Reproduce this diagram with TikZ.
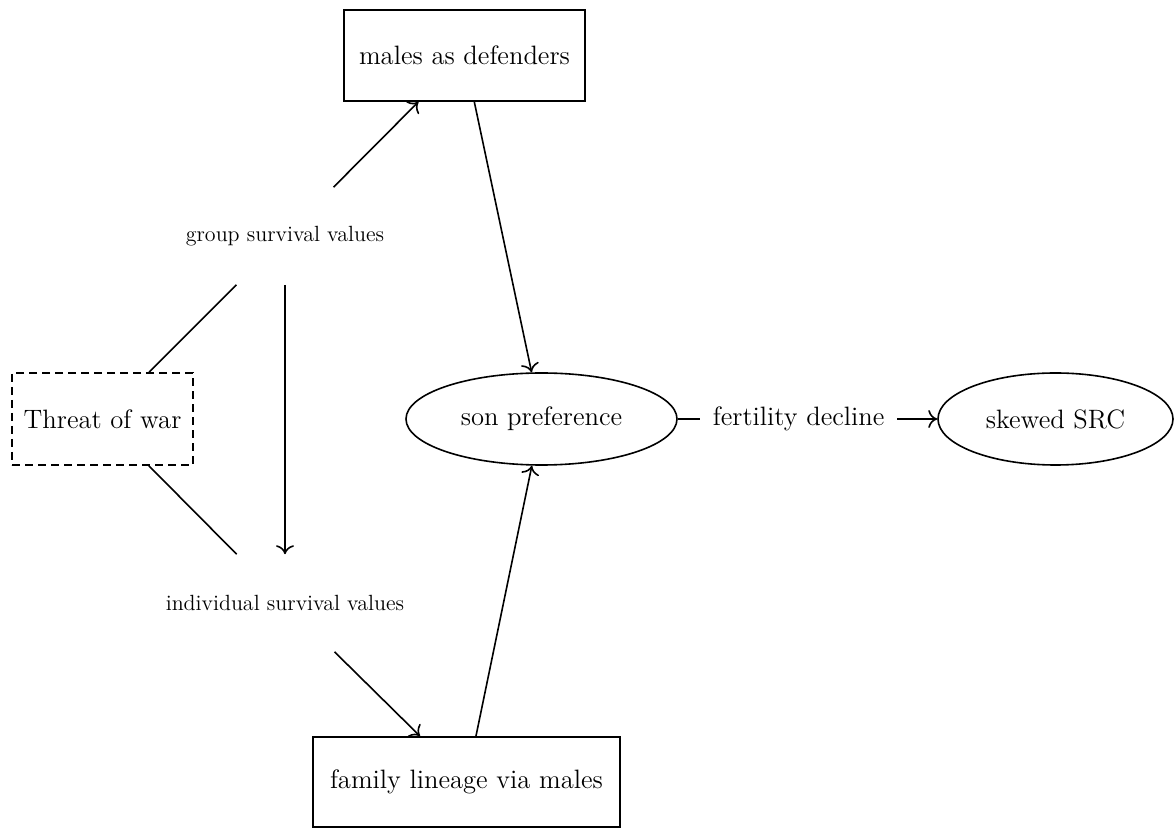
\documentclass[tikz,border=0pt]{standalone}
\usetikzlibrary{shapes.geometric,arrows.meta}
\begin{document}
\begin{tikzpicture}[x=0.5pt,y=-0.5pt,
  line width=0.8pt,
  mainfont/.style={font=\fontsize{13.3}{16}\selectfont},
  smallfont/.style={font=\fontsize{11}{13}\selectfont},
  boxnode/.style={draw, rectangle, mainfont, inner sep=0pt},
  dashbox/.style={draw, rectangle, dash pattern=on 4pt off 2.5pt, mainfont, inner sep=0pt},
  ellnode/.style={draw, ellipse, mainfont, inner sep=0pt},
  valnode/.style={rectangle, smallfont, inner xsep=2pt, inner ysep=0pt, minimum height=48pt},
  edgelabel/.style={fill=white, mainfont, inner xsep=6.25pt, inner ysep=2pt},
  arr/.style={-{To[length=4.5pt,width=9pt]}}]
\useasboundingbox (0,0) rectangle (1174,828);
\node[boxnode, minimum width=120.5pt, minimum height=45.5pt] (def) at (464.5,55.5) {males as defenders};
\node[dashbox, minimum width=90.5pt, minimum height=46pt] (war) at (102.5,419) {Threat of war};
\node[ellnode, minimum width=135.5pt, minimum height=46pt] (son) at (541.5,419) {son preference};
\node[ellnode, minimum width=117.5pt, minimum height=46pt] (src) at (1055.5,419) {skewed SRC};
\node[boxnode, minimum width=153.5pt, minimum height=45pt] (fam) at (466.5,782) {family lineage via males};
\node[valnode] (grp) at (285,236) {group survival values};
\node[valnode] (ind) at (285,603) {individual survival values};
\draw (war) -- (grp);
\draw (war) -- (ind);
\draw[arr] (grp) -- (def);
\draw[arr] (grp) -- (ind);
\draw[arr] (ind) -- (fam);
\draw[arr] (def) -- (son);
\draw[arr] (fam) -- (son);
\draw[arr] (son) -- node[edgelabel, pos=0.466] (fert) {fertility decline} (src);
\end{tikzpicture}
\end{document}
